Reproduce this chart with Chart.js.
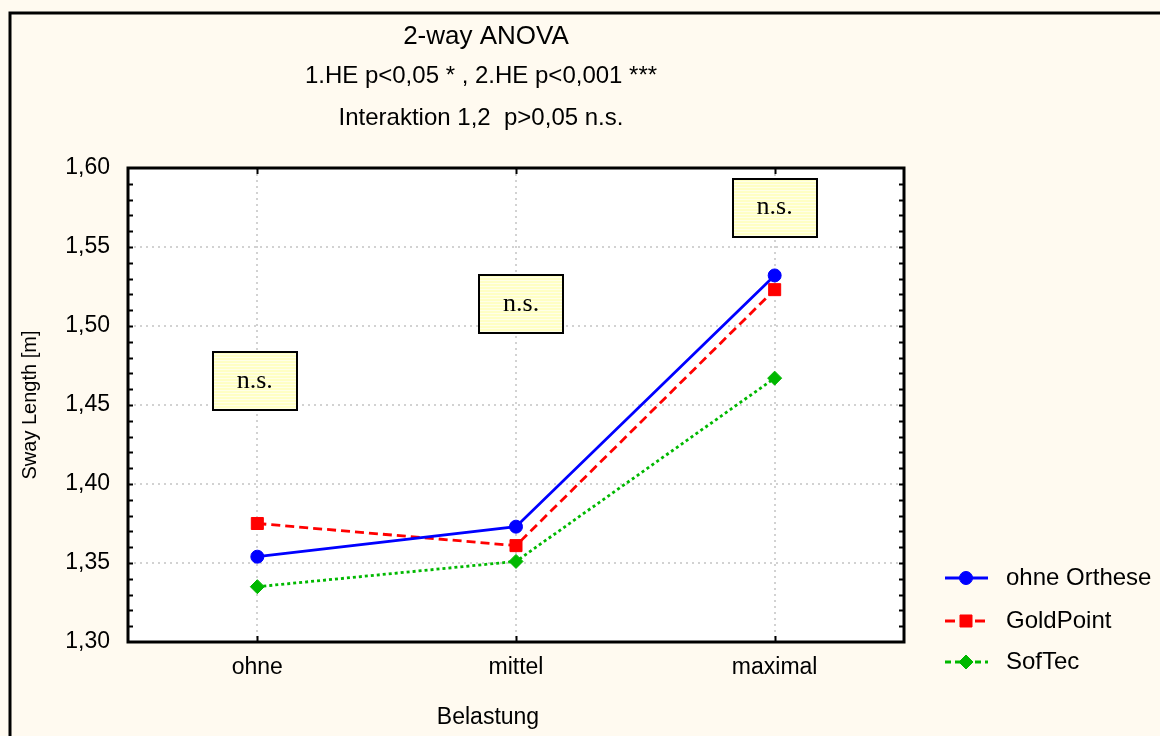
<!DOCTYPE html>
<html>
<head>
<meta charset="utf-8">
<title>Sway Length - 2-way ANOVA</title>
<script src="https://cdn.jsdelivr.net/npm/chart.js@4"></script>
<style>
  html, body { margin: 0; padding: 0; background: #fffaf0; }
  #chart { display: block; }
</style>
</head>
<body>
<canvas id="chart" width="1160" height="736"></canvas>
<script>
// ===============================
//  Data
// ===============================
const categories = ['ohne', 'mittel', 'maximal'];
const ohneOrthese = [1.354, 1.373, 1.532];
const goldPoint = [1.375, 1.361, 1.523];
const sofTec = [1.335, 1.351, 1.467];
const seriesNames = ['ohne Orthese', 'GoldPoint', 'SofTec'];
const yTicks = [1.30, 1.35, 1.40, 1.45, 1.50, 1.55, 1.60];

const titleLines = ['2-way ANOVA', '1.HE p<0,05 * , 2.HE p<0,001 ***', 'Interaktion 1,2  p>0,05 n.s.'];
const xTitle = 'Belastung';
const yTitle = 'Sway Length [m]';

// "n.s." boxes, placed in data space (category index, value)
const nsLabels = ['n.s.', 'n.s.', 'n.s.'];
const nsIndex = [-0.01, 1.02, 2.0];
const nsValue = [1.465, 1.514, 1.575];

const FONT = 'Arial, "Liberation Sans", sans-serif';
const SERIF = '"Times New Roman", "Liberation Serif", serif';

// legend dashes are a bit coarser than the plotted lines
const legendDash = [[], [10, 5], [6, 4]];

// ===============================
//  Drawing helpers (frame, ticks, boxes, titles, legend)
// ===============================
const decor = {
  id: 'decor',
  beforeDraw(chart) {
    const { ctx, chartArea: a } = chart;
    ctx.save();
    ctx.fillStyle = '#fffaf0';
    ctx.fillRect(0, 0, chart.width, chart.height);
    ctx.fillStyle = '#ffffff';
    ctx.fillRect(a.left, a.top, a.right - a.left, a.bottom - a.top);
    // outer frame (only top and left are visible)
    ctx.strokeStyle = '#000';
    ctx.lineWidth = 3;
    ctx.beginPath();
    ctx.moveTo(10, chart.height);
    ctx.lineTo(10, 13);
    ctx.lineTo(chart.width, 13);
    ctx.stroke();
    ctx.restore();
  },
  beforeDatasetsDraw(chart) {
    const { ctx, chartArea: a } = chart;
    const xs = chart.scales.x;
    const ys = chart.scales.y;
    ctx.save();

    // n.s. boxes
    nsLabels.forEach((txt, i) => {
      const cx = xs.getPixelForValue(nsIndex[i]);
      const cy = ys.getPixelForValue(nsValue[i]);
      const w = 84, h = 58;
      const x0 = Math.round(cx - w / 2), y0 = Math.round(cy - h / 2);
      ctx.fillStyle = '#ffffc4';
      ctx.fillRect(x0, y0, w, h);
      ctx.fillStyle = '#ffffe8';
      for (let y = y0 + 2; y < y0 + h; y += 3) ctx.fillRect(x0, y, w, 1);
      ctx.strokeStyle = '#000';
      ctx.lineWidth = 2;
      ctx.strokeRect(x0, y0, w, h);
      ctx.fillStyle = '#000';
      ctx.font = '26px ' + SERIF;
      ctx.textAlign = 'center';
      ctx.textBaseline = 'middle';
      ctx.fillText(txt, cx, cy);
    });

    // plot frame
    ctx.strokeStyle = '#000';
    ctx.lineWidth = 3;
    ctx.strokeRect(a.left, a.top, a.right - a.left, a.bottom - a.top);

    // inward ticks: minor every 0.01 on both y sides, categories on top/bottom
    ctx.lineWidth = 2;
    ctx.beginPath();
    for (let k = 131; k < 160; k++) {
      const y = Math.round(ys.getPixelForValue(k / 100)) + 0.5;
      ctx.moveTo(a.left, y); ctx.lineTo(a.left + 5, y);
      ctx.moveTo(a.right, y); ctx.lineTo(a.right - 5, y);
    }
    categories.forEach((c, i) => {
      const x = Math.round(xs.getPixelForValue(i)) + 0.5;
      ctx.moveTo(x, a.bottom); ctx.lineTo(x, a.bottom - 6);
      ctx.moveTo(x, a.top); ctx.lineTo(x, a.top + 6);
    });
    ctx.stroke();
    ctx.restore();
  },
  afterDraw(chart) {
    const { ctx } = chart;
    ctx.save();
    ctx.fillStyle = '#000';
    ctx.textAlign = 'center';
    ctx.textBaseline = 'middle';

    // titles
    ctx.font = '26px ' + FONT;
    ctx.fillText(titleLines[0], 486, 37);
    ctx.font = '24px ' + FONT;
    ctx.fillText(titleLines[1], 481, 76);
    ctx.fillText(titleLines[2], 481, 118);

    // axis titles
    ctx.font = '23px ' + FONT;
    ctx.fillText(xTitle, 488, 718);
    ctx.save();
    ctx.translate(30, 405);
    ctx.rotate(-Math.PI / 2);
    ctx.font = '20px ' + FONT;
    ctx.fillText(yTitle, 0, 0);
    ctx.restore();

    // legend
    const rows = [578, 621, 662];
    chart.data.datasets.forEach((ds, i) => {
      const y = rows[i];
      ctx.strokeStyle = ds.borderColor;
      ctx.lineWidth = 3;
      ctx.setLineDash(legendDash[i]);
      ctx.beginPath();
      ctx.moveTo(945, y); ctx.lineTo(988, y);
      ctx.stroke();
      ctx.setLineDash([]);
      ctx.fillStyle = ds.backgroundColor;
      ctx.lineWidth = 1;
      Chart.helpers.drawPoint(ctx, { pointStyle: ds.pointStyle, radius: ds.pointRadius, borderWidth: 1, rotation: 0 }, 966, y);
      ctx.fillStyle = '#000';
      ctx.textAlign = 'left';
      ctx.font = '24px ' + FONT;
      ctx.fillText(ds.label, 1006, y);
    });
    ctx.restore();
  }
};

// ===============================
//  Chart
// ===============================
const gridOpts = { color: '#d2d2d2', lineWidth: 2, drawTicks: false };
const borderOpts = { display: false, dash: [2, 4] };

new Chart(document.getElementById('chart').getContext('2d'), {
  type: 'line',
  data: {
    labels: categories,
    datasets: [
      {
        label: seriesNames[0],
        data: ohneOrthese,
        borderColor: '#0000ff',
        backgroundColor: '#0000ff',
        borderWidth: 2.8,
        pointStyle: 'circle',
        pointRadius: 6.5,
        pointBorderWidth: 1,
        tension: 0,
      },
      {
        label: seriesNames[1],
        data: goldPoint,
        borderColor: '#ff0000',
        backgroundColor: '#ff0000',
        borderWidth: 2.8,
        borderDash: [9, 5],
        pointStyle: 'rect',
        pointRadius: 8.5,
        pointBorderWidth: 1,
        tension: 0,
      },
      {
        label: seriesNames[2],
        data: sofTec,
        borderColor: '#00b800',
        backgroundColor: '#00b800',
        borderWidth: 2.8,
        borderDash: [3, 3],
        pointStyle: 'rectRot',
        pointRadius: 7,
        pointBorderWidth: 1,
        tension: 0,
      },
    ],
  },
  options: {
    responsive: false,
    animation: false,
    layout: { padding: { left: 0, top: 168, right: 256, bottom: 0 } },
    plugins: {
      legend: { display: false },
      title: { display: false },
      tooltip: { enabled: false },
    },
    scales: {
      x: {
        type: 'category',
        offset: true,
        grid: gridOpts,
        border: borderOpts,
        ticks: { color: '#000', font: { family: FONT, size: 23 }, padding: 12 },
        afterFit: (s) => { s.height = 94; },
      },
      y: {
        min: 1.3,
        max: 1.6,
        grid: gridOpts,
        border: borderOpts,
        afterBuildTicks: (s) => { s.ticks = yTicks.map((v) => ({ value: v })); },
        ticks: {
          color: '#000',
          font: { family: FONT, size: 23 },
          padding: 18,
          callback: (v) => Number(v).toFixed(2).replace('.', ','),
        },
        afterFit: (s) => { s.width = 128; },
      },
    },
  },
  plugins: [decor],
});
</script>
</body>
</html>
